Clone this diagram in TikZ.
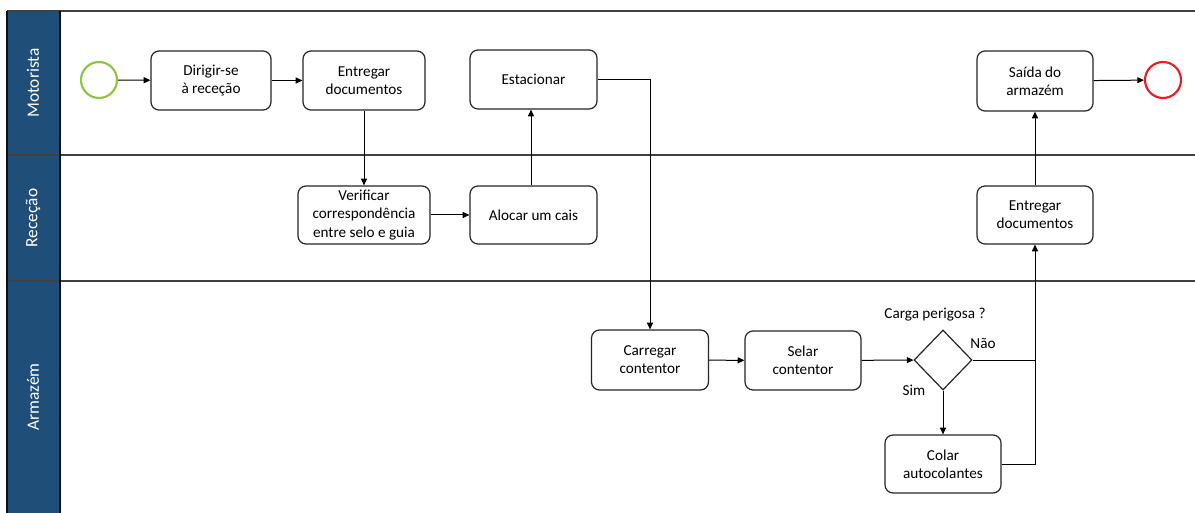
\documentclass[tikz,border=0pt]{standalone}
\usepackage{fontspec}
\setmainfont{Carlito}
\usetikzlibrary{arrows.meta,shapes.geometric}
\definecolor{lanehead}{RGB}{31,78,121}
\definecolor{laneline}{RGB}{64,64,64}
\definecolor{startgreen}{RGB}{141,198,63}
\definecolor{endred}{RGB}{237,28,36}
\tikzset{
  task/.style={draw=black!85, line width=0.9pt, rounded corners=6pt, align=center,
    font=\fontsize{11.4}{13.6}\selectfont, inner sep=2pt},
  flow/.style={draw=black, line width=0.75pt, -{Triangle[length=5pt,width=4.5pt]}},
  plain/.style={draw=black, line width=0.75pt},
  lanetitle/.style={rotate=90, text=white, font=\fontsize{13}{15}\selectfont},
  note/.style={font=\fontsize{11.4}{13.6}\selectfont, inner sep=0pt},
  event/.style={circle, minimum size=27pt, inner sep=0pt, line width=1.6pt}
}
\begin{document}
\begin{tikzpicture}[x=0.75pt,y=-0.75pt]
\useasboundingbox (0,0) rectangle (1195,513);
\fill[white] (0,0) rectangle (1195,513);

% pool header band and lane separators
\fill[lanehead] (7,11) rectangle (60,513);
\draw[laneline, line width=0.9pt] (7,11) -- (1195,11);
\draw[laneline, line width=0.9pt] (7,155) -- (1195,155);
\draw[laneline, line width=0.9pt] (7,281) -- (1195,281);
\draw[black!80!lanehead, line width=0.9pt] (7,11) -- (7,513);
\draw[black!80!lanehead, line width=0.9pt] (60,11) -- (60,513);

\node[lanetitle] (lmot) at (33,83) {Motorista};
\node[lanetitle] (lrec) at (33,218) {Receção};
\node[lanetitle] (larm) at (33,397) {Armazém};

% events
\node[event, draw=startgreen] (start) at (99,80) {};
\node[event, draw=endred] (end) at (1163,80) {};

% tasks
\node[task, minimum width=90pt, minimum height=44.25pt] (dir) at (211,80.5) {Dirigir-se\\à receção};
\node[task, minimum width=91.5pt, minimum height=44.25pt] (ent1) at (364,80.5) {Entregar\\documentos};
\node[task, minimum width=95.25pt, minimum height=44.25pt] (est) at (533.5,79.5) {Estacionar};
\node[task, minimum width=87pt, minimum height=45pt] (saida) at (1035,81) {Saída do\\armazém};
\node[task, minimum width=99pt, minimum height=43.5pt] (ver) at (364,215) {Verificar\\correspondência\\entre selo e guia};
\node[task, minimum width=95.25pt, minimum height=43.5pt] (aloc) at (533.5,215) {Alocar um cais};
\node[task, minimum width=87pt, minimum height=43.5pt] (ent2) at (1035,215) {Entregar\\documentos};
\node[task, minimum width=87.75pt, minimum height=45pt] (carr) at (650,360) {Carregar\\contentor};
\node[task, minimum width=87pt, minimum height=44.25pt] (selar) at (803,360.5) {Selar\\contentor};
\node[task, minimum width=87pt, minimum height=43.5pt] (colar) at (943,464) {Colar\\autocolantes};

% gateway
\node[diamond, draw=black!85, line width=0.9pt, minimum width=43.5pt, minimum height=45pt, inner sep=0pt] (gw) at (943,360) {};
\node[note] (gwq) at (935,315) {Carga perigosa ?};
\node[note] (nao) at (983,343) {Não};
\node[note] (sim) at (914,390) {Sim};

% sequence flows
\draw[flow] (start) -- (dir);
\draw[flow] (dir) -- (ent1);
\draw[flow] (ent1) -- (ver);
\draw[flow] (ver) -- (aloc);
\draw[flow] (aloc.north -| 531,0) -- (est.south -| 531,0);
\draw[flow] (est.east) -| (carr.north);
\draw[flow] (carr) -- (selar);
\draw[flow] (selar) -- (gw);
\draw[flow] (gw.south) -- (colar.north);
\draw[plain] (gw.east) -- (gw.east -| ent2.south);
\draw[flow] (colar.east) -| (ent2.south);
\draw[flow] (ent2) -- (saida);
\draw[flow] (saida) -- (end);
\end{tikzpicture}
\end{document}
